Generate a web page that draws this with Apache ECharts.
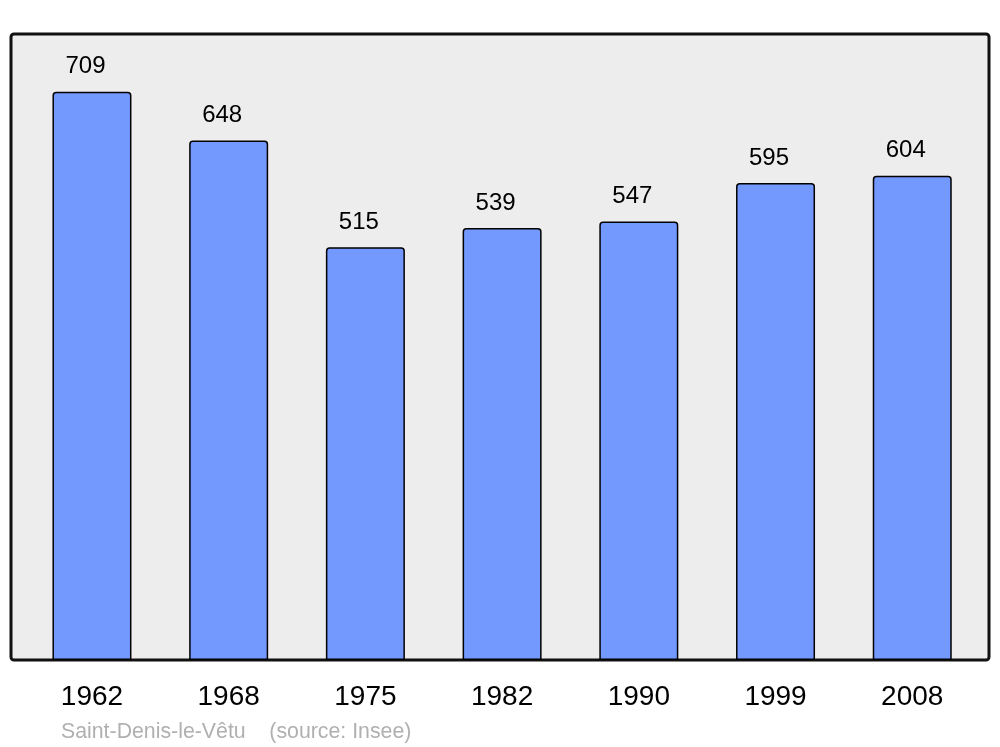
<!DOCTYPE html>
<html>
<head>
<meta charset="utf-8">
<script src="https://cdn.jsdelivr.net/npm/echarts@6/dist/echarts.min.js"></script>
<style>
  html, body { margin: 0; padding: 0; background: #fff; }
  #chart { width: 1000px; height: 747px; }
</style>
</head>
<body>
<div id="chart"></div>
<script>
// population per census year
const years = ['1962', '1968', '1975', '1982', '1990', '1999', '2008']
const population = [709, 648, 515, 539, 547, 595, 604]
const sourceText = 'Saint-Denis-le-Vêtu    (source: Insee)'

const chart = echarts.init(document.getElementById('chart'))
chart.setOption({
  animation: false,
  backgroundColor: '#fff',
  textStyle: { fontFamily: 'Liberation Sans, Arial, sans-serif' },
  graphic: [
    {
      type: 'rect',
      z: 0,
      shape: { x: 11, y: 34, width: 978, height: 626, r: 3 },
      style: { fill: '#ededed', stroke: '#111', lineWidth: 3 }
    },
    {
      type: 'text',
      left: 61,
      top: 722,
      style: { text: sourceText, fill: '#b0b0b0', fontSize: 21.3, fontFamily: 'Liberation Sans, Arial, sans-serif' }
    }
  ],
  grid: { left: 23.6, right: 19.4, top: 34, bottom: 87 },
  xAxis: {
    type: 'category',
    data: years,
    axisLine: { show: false },
    axisTick: { show: false },
    axisLabel: { color: '#000', fontSize: 28, margin: 23 }
  },
  yAxis: {
    type: 'value',
    min: 0,
    max: 781,
    show: false,
    splitLine: { show: false }
  },
  series: [{
    type: 'bar',
    data: population,
    barWidth: 79,
    itemStyle: { color: '#7399ff', borderColor: '#000', borderWidth: 1.5, borderRadius: [3, 3, 0, 0] },
    label: { show: true, position: 'top', distance: 13, offset: [-6.5, 0], color: '#000', fontSize: 24 }
  }]
})
</script>
</body>
</html>
